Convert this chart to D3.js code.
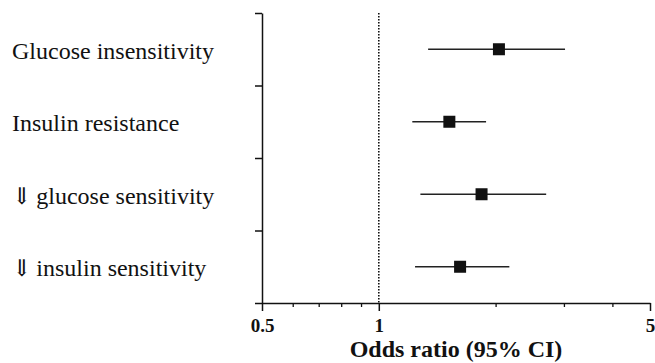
<!DOCTYPE html>
<html>
<head>
<meta charset="utf-8">
<script src="https://cdn.jsdelivr.net/npm/d3@7"></script>
<style>
  body { margin: 0; background: #fff; }
  svg { display: block; }
  text { font-family: "Liberation Serif", "Times New Roman", serif; fill: #111; }
</style>
</head>
<body>
<svg></svg>
<script>
// forest plot data (odds ratio with 95% CI)
const categories = ['Glucose insensitivity', 'Insulin resistance', '\u21D3 glucose sensitivity', '\u21D3 insulin sensitivity'];
const oddsRatio = [2.04, 1.52, 1.84, 1.62];
const ciLow = [1.34, 1.22, 1.28, 1.24];
const ciHigh = [3.02, 1.89, 2.70, 2.17];
const majorTicks = [0.5, 1, 5];
const minorTicks = [0.6, 0.7, 0.8, 0.9, 2, 3, 4];

const dimensions = { width: 655, height: 363 };
const margin = { left: 262, right: 5, top: 13, bottom: 60 };

const svg = d3.select('svg').attr('width', dimensions.width).attr('height', dimensions.height);

const x = d3.scaleLog()
    .domain([0.5, 5])
    .range([margin.left, dimensions.width - margin.right]);

const y = d3.scaleBand()
    .domain(categories)
    .range([margin.top, dimensions.height - margin.bottom]);

const bottom = dimensions.height - margin.bottom;

// reference line at OR = 1
svg.append('line')
    .attr('x1', x(1)).attr('x2', x(1))
    .attr('y1', margin.top).attr('y2', bottom)
    .attr('stroke', '#111')
    .attr('stroke-width', 1.6)
    .attr('stroke-dasharray', '1.5,1.5');

// x axis - major ticks with labels, minor ticks without
svg.append('g')
    .attr('transform', `translate(0,${bottom})`)
    .call(d3.axisBottom(x).tickValues(minorTicks).tickFormat('').tickSize(4).tickSizeOuter(0))
    .call(g => g.select('.domain').remove())
    .call(g => g.selectAll('line').attr('stroke', '#111').attr('stroke-width', 1.3));

const xAxis = svg.append('g')
    .attr('transform', `translate(0,${bottom})`)
    .call(d3.axisBottom(x).tickValues(majorTicks).tickFormat(d3.format('')).tickSize(8).tickSizeOuter(0).tickPadding(8));
xAxis.select('.domain').attr('stroke', '#111').attr('stroke-width', 1.5);
xAxis.selectAll('line').attr('stroke', '#111').attr('stroke-width', 1.5);
xAxis.selectAll('text')
    .attr('font-family', '"Liberation Serif", serif')
    .attr('font-size', 19)
    .attr('font-weight', 'bold')
    .attr('fill', '#111');

// y axis - ticks at band boundaries, no labels on the axis itself
const yBounds = categories.map(c => y(c)).concat([bottom]);
const yAxisScale = d3.scaleLinear().domain([0, 1]).range([margin.top, bottom]);
const yAxis = svg.append('g')
    .attr('transform', `translate(${margin.left},0)`)
    .call(d3.axisLeft(yAxisScale)
        .tickValues(yBounds.map(v => yAxisScale.invert(v)))
        .tickFormat('')
        .tickSize(7)
        .tickSizeOuter(0));
yAxis.select('.domain').attr('stroke', '#111').attr('stroke-width', 1.5);
yAxis.selectAll('line').attr('stroke', '#111').attr('stroke-width', 1.5);

// category labels on the left (arrow glyph from a fallback font)
const labels = svg.append('g')
    .selectAll('text')
    .data(categories)
    .join('text')
    .attr('x', 12)
    .attr('y', d => y(d) + y.bandwidth() / 2)
    .attr('dy', '0.4em')
    .attr('font-size', 24);

labels.each(function (d) {
    const t = d3.select(this);
    if (d.startsWith('\u21D3')) {
        t.append('tspan').attr('font-size', 23).attr('font-family', '"DejaVu Serif", serif').text('\u21D3');
        t.append('tspan').attr('dx', -1).text(d.slice(1));
    } else {
        t.text(d);
    }
});

// confidence intervals
const rows = categories.map((c, i) => ({ c, or: oddsRatio[i], lo: ciLow[i], hi: ciHigh[i] }));

svg.append('g')
    .selectAll('line')
    .data(rows)
    .join('line')
    .attr('x1', d => x(d.lo))
    .attr('x2', d => x(d.hi))
    .attr('y1', d => y(d.c) + y.bandwidth() / 2)
    .attr('y2', d => y(d.c) + y.bandwidth() / 2)
    .attr('stroke', '#222')
    .attr('stroke-width', 1.6);

// point estimates
const box = 12;
svg.append('g')
    .selectAll('rect')
    .data(rows)
    .join('rect')
    .attr('x', d => x(d.or) - box / 2)
    .attr('y', d => y(d.c) + y.bandwidth() / 2 - box / 2)
    .attr('width', box)
    .attr('height', box)
    .attr('fill', '#111');

// axis title
svg.append('text')
    .attr('x', (x.range()[0] + x.range()[1]) / 2)
    .attr('y', 357)
    .attr('text-anchor', 'middle')
    .attr('font-size', 24)
    .attr('font-weight', 'bold')
    .text('Odds ratio (95% CI)');
</script>
</body>
</html>
